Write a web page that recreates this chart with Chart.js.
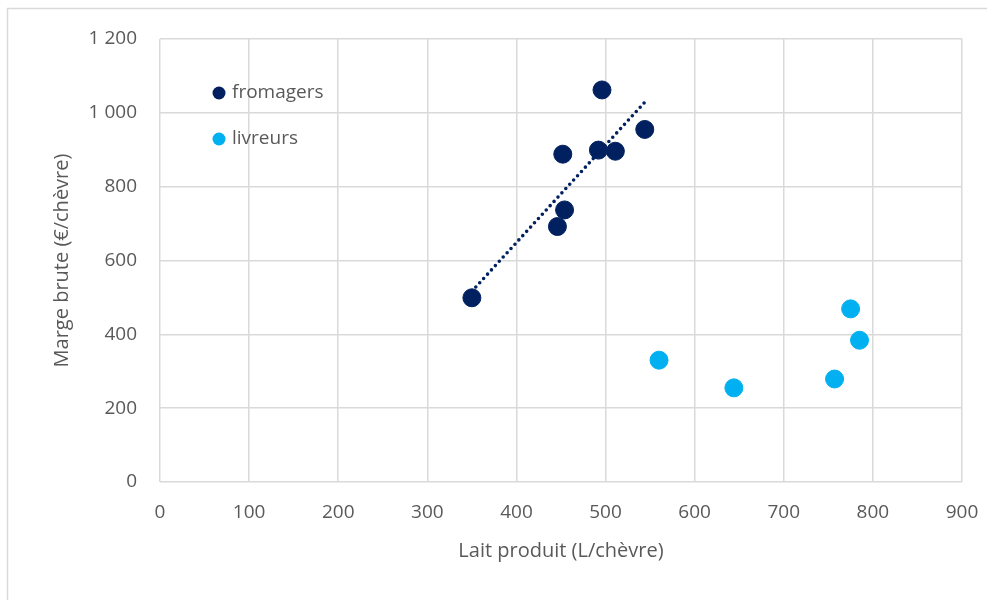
<!DOCTYPE html>
<html lang="fr">
<head>
<meta charset="utf-8">
<title>Marge brute et lait produit</title>
<script src="https://cdn.jsdelivr.net/npm/chart.js@4/dist/chart.umd.min.js"></script>
<style>
  html, body { margin: 0; padding: 0; background: #ffffff; }
  #wrap { width: 987px; height: 600px; position: relative; }
</style>
</head>
<body>
<div id="wrap"><canvas id="c" width="987" height="600"></canvas></div>
<script>
// Lait produit (L/chèvre) et marge brute (€/chèvre) par exploitation
const fromagersLait  = [350, 446, 454, 452, 496, 492, 511, 544];
const fromagersMarge = [499, 692, 737, 888, 1062, 899, 896, 955];
const livreursLait   = [560, 644, 757, 775, 785];
const livreursMarge  = [330, 255, 279, 469, 384];

const xTicks = [0, 100, 200, 300, 400, 500, 600, 700, 800, 900];
const yTicks = [0, 200, 400, 600, 800, 1000, 1200];

const NAVY = '#002060';
const CYAN = '#00B0F0';
const GRID = '#d9d9d9';
const TEXT = '#595959';
const FONT = "'Open Sans', 'Liberation Sans', sans-serif";

const toPoints = (xs, ys) => xs.map((x, i) => ({ x: x, y: ys[i] }));

// Droite de tendance linéaire (moindres carrés) des fromagers
function linearTrend(xs, ys) {
  const n = xs.length;
  const mx = xs.reduce((a, b) => a + b, 0) / n;
  const my = ys.reduce((a, b) => a + b, 0) / n;
  let sxy = 0, sxx = 0;
  for (let i = 0; i < n; i++) {
    sxy += (xs[i] - mx) * (ys[i] - my);
    sxx += (xs[i] - mx) * (xs[i] - mx);
  }
  const slope = sxy / sxx;
  const icpt = my - slope * mx;
  const x0 = Math.min(...xs), x1 = Math.max(...xs);
  return [{ x: x0, y: icpt + slope * x0 }, { x: x1, y: icpt + slope * x1 }];
}

const frenchNumber = v => String(v).replace(/\B(?=(\d{3})+(?!\d))/g, ' ');

// Cadre gris clair autour du graphique
const framePlugin = {
  id: 'frame',
  beforeDraw(chart) {
    const ctx = chart.ctx;
    ctx.save();
    ctx.strokeStyle = '#d9d9d9';
    ctx.lineWidth = 1.5;
    ctx.beginPath();
    ctx.moveTo(7.5, 610);
    ctx.lineTo(7.5, 8.5);
    ctx.lineTo(987, 8.5);
    ctx.stroke();
    ctx.restore();
  }
};

// Légende dessinée dans la zone de tracé, en haut à gauche
const insideLegend = {
  id: 'insideLegend',
  afterDatasetsDraw(chart) {
    const ctx = chart.ctx;
    const items = chart.data.datasets.filter(d => d.inLegend);
    const baseX = 219, baseY = 93, step = 46;
    ctx.save();
    ctx.font = "19px " + FONT;
    ctx.textBaseline = 'middle';
    ctx.textAlign = 'left';
    items.forEach((d, i) => {
      const y = baseY + i * step;
      ctx.fillStyle = d.backgroundColor;
      ctx.beginPath();
      ctx.arc(baseX, y, 6.5, 0, Math.PI * 2);
      ctx.fill();
      ctx.fillStyle = TEXT;
      ctx.fillText(d.label, baseX + 13, y);
    });
    ctx.restore();
  }
};

new Chart(document.getElementById('c'), {
  type: 'scatter',
  data: {
    datasets: [
      {
        type: 'line',
        label: 'Linéaire (fromagers)',
        data: linearTrend(fromagersLait, fromagersMarge),
        borderColor: NAVY,
        borderWidth: 3.6,
        borderDash: [0, 5.8],
        borderCapStyle: 'round',
        pointRadius: 0,
        fill: false,
        order: 2
      },
      {
        label: 'fromagers',
        data: toPoints(fromagersLait, fromagersMarge),
        backgroundColor: NAVY,
        borderColor: NAVY,
        pointRadius: 9,
        pointHoverRadius: 9,
        inLegend: true,
        order: 1
      },
      {
        label: 'livreurs',
        data: toPoints(livreursLait, livreursMarge),
        backgroundColor: CYAN,
        borderColor: CYAN,
        pointRadius: 9,
        pointHoverRadius: 9,
        inLegend: true,
        order: 1
      }
    ]
  },
  options: {
    responsive: false,
    animation: false,
    layout: { padding: { left: 0, top: 39, right: 25, bottom: 0 } },
    plugins: {
      legend: { display: false },
      tooltip: { enabled: false }
    },
    scales: {
      x: {
        type: 'linear',
        min: xTicks[0],
        max: xTicks[xTicks.length - 1],
        afterBuildTicks: s => { s.ticks = xTicks.map(v => ({ value: v })); },
        afterFit: s => { s.height = 118; s.paddingLeft = 0; s.paddingRight = 0; },
        grid: { color: GRID, lineWidth: 1.5, drawTicks: false },
        border: { display: false },
        ticks: { color: TEXT, font: { family: FONT, size: 19 }, padding: 19, maxRotation: 0 },
        title: {
          display: true,
          text: 'Lait produit (L/chèvre)',
          color: TEXT,
          font: { family: FONT, size: 20 },
          padding: { top: 0, bottom: 37 }
        }
      },
      y: {
        type: 'linear',
        min: yTicks[0],
        max: yTicks[yTicks.length - 1],
        afterBuildTicks: s => { s.ticks = yTicks.map(v => ({ value: v })); },
        afterFit: s => { s.width = 160; s.paddingTop = 0; s.paddingBottom = 0; },
        grid: { color: GRID, lineWidth: 1.5, drawTicks: false },
        border: { display: false },
        ticks: {
          color: TEXT,
          font: { family: FONT, size: 19 },
          padding: 23,
          callback: v => frenchNumber(v)
        },
        title: {
          display: true,
          text: 'Marge brute (€/chèvre)',
          color: TEXT,
          font: { family: FONT, size: 20 },
          padding: { top: 50, bottom: 0 }
        }
      }
    }
  },
  plugins: [framePlugin, insideLegend]
});
</script>
</body>
</html>
